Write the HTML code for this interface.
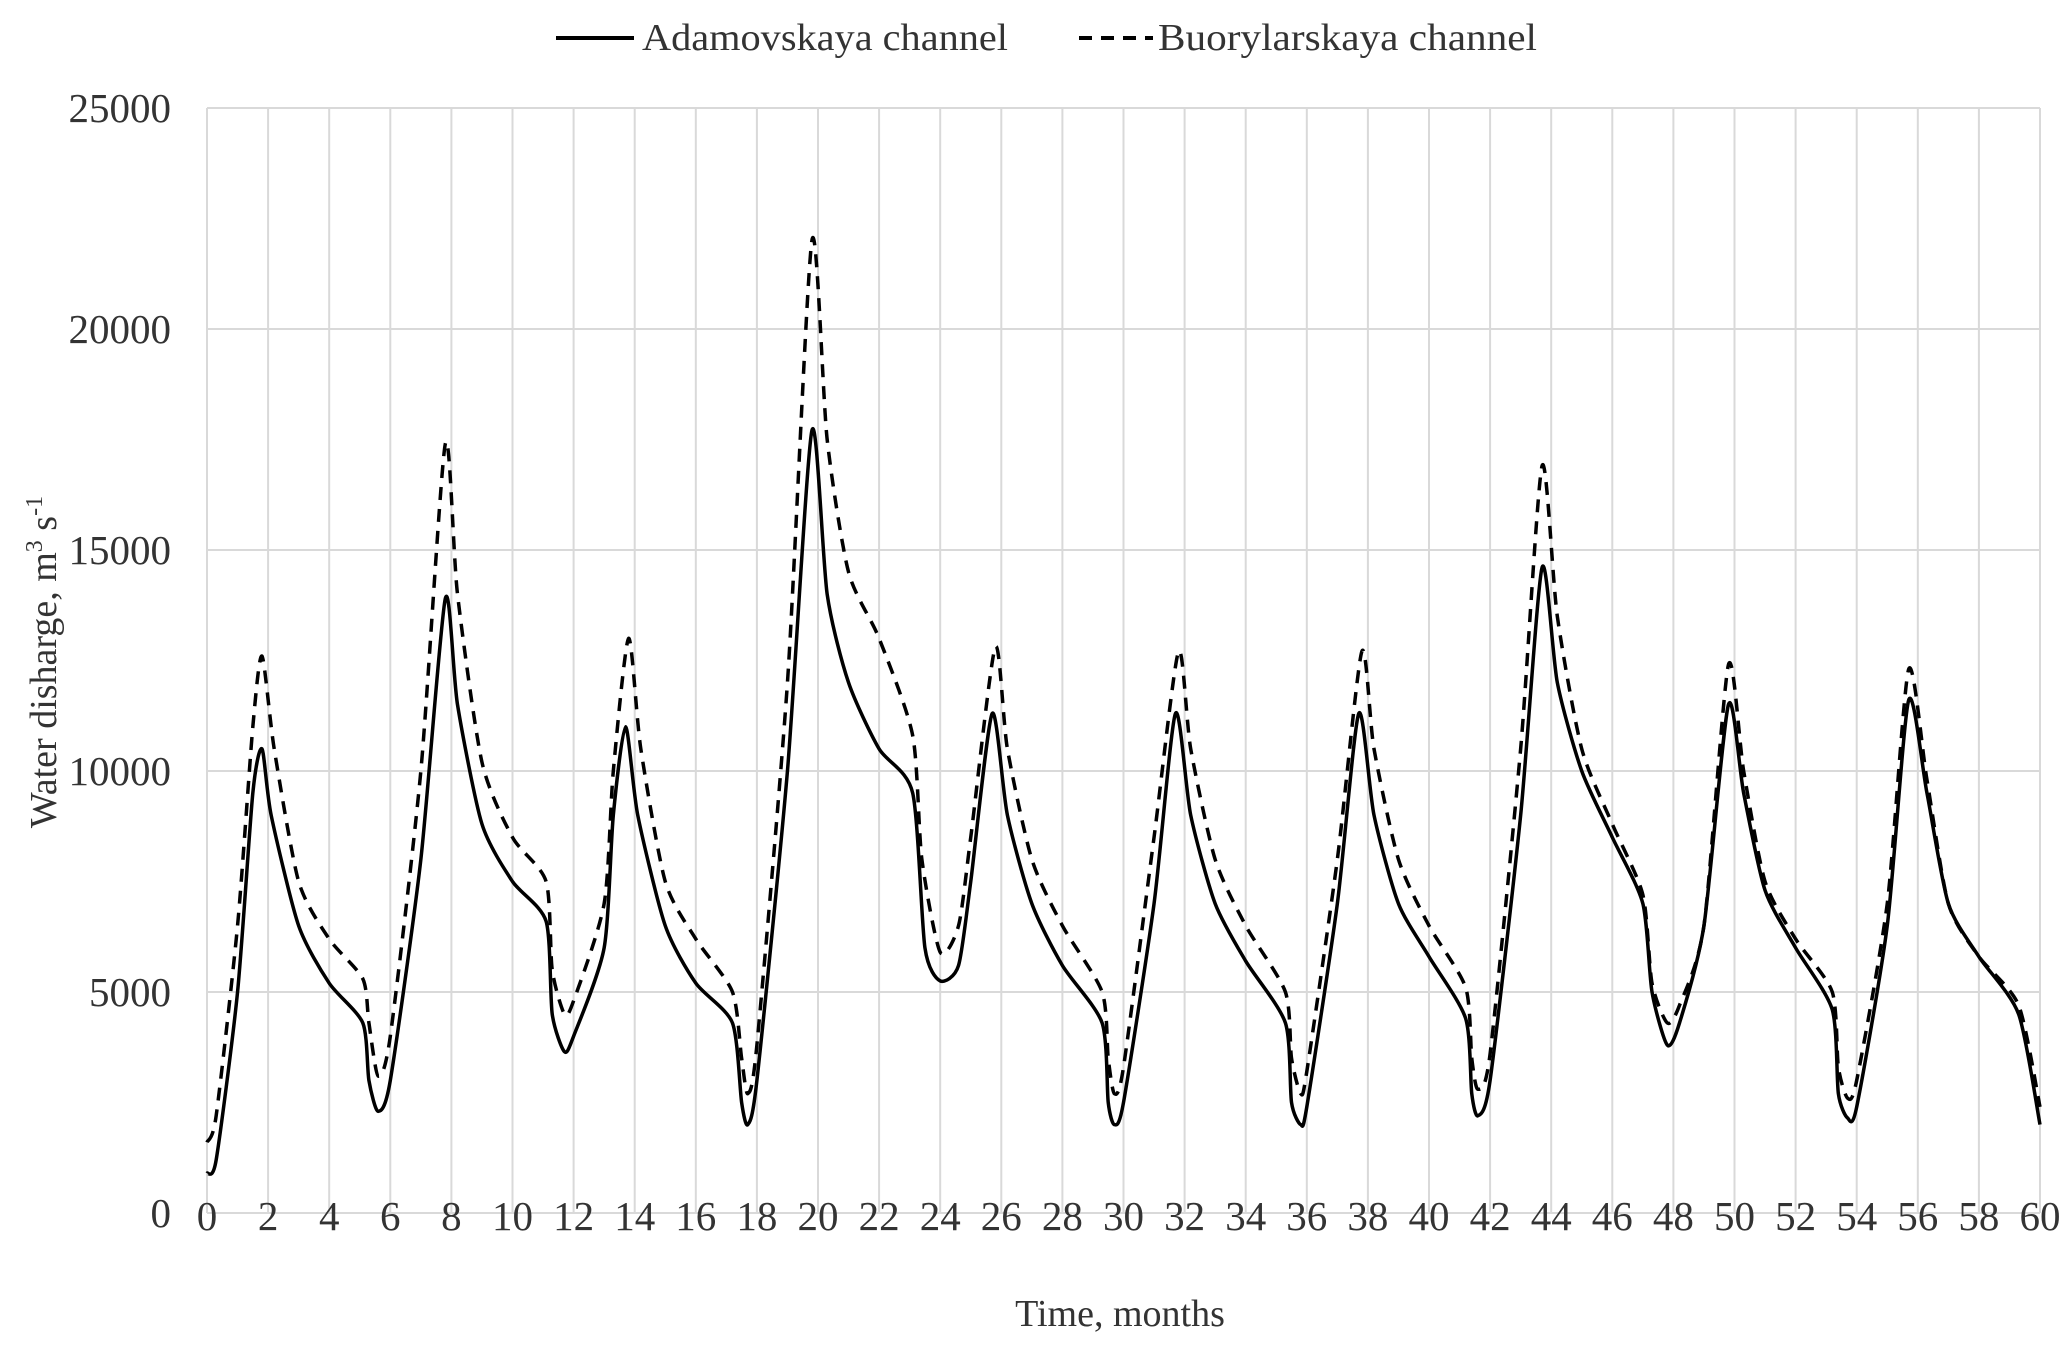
<!DOCTYPE html>
<html><head><meta charset="utf-8">
<style>
html,body{margin:0;padding:0;background:#fff;}
svg{display:block;}
text{font-family:"Liberation Serif",serif;fill:#333;}
</style></head>
<body>
<svg id="s" width="2067" height="1355" viewBox="0 0 2067 1355" xmlns="http://www.w3.org/2000/svg">
<g id="grid" stroke="#d9d9d9" stroke-width="2"></g>
<g id="lab" font-size="41"></g>
<path id="a" fill="none" stroke="#000" stroke-width="3.5" stroke-linejoin="round"/>
<path id="b" fill="none" stroke="#000" stroke-width="3.5" stroke-dasharray="13,9" stroke-linejoin="round"/>
<line x1="556" y1="38" x2="634" y2="38" stroke="#000" stroke-width="4"/>
<text x="642" y="50" font-size="38" textLength="366" lengthAdjust="spacingAndGlyphs">Adamovskaya channel</text>
<line x1="1079" y1="38" x2="1153" y2="38" stroke="#000" stroke-width="4" stroke-dasharray="13,9"/>
<text x="1158" y="50" font-size="38" textLength="379" lengthAdjust="spacingAndGlyphs">Buorylarskaya channel</text>
<text x="1120" y="1326" font-size="38" text-anchor="middle">Time, months</text>
<text transform="translate(56,662) rotate(-90)" font-size="38" text-anchor="middle">Water disharge, m<tspan font-size="24" dy="-14">3</tspan><tspan dy="14"> s</tspan><tspan font-size="24" dy="-14">-1</tspan></text>
</svg>
<script>
var L=207,R=2040,T=108,B=1213;
function X(m){return L+(R-L)*m/60;}
function Y(v){return B-(B-T)*v/25000;}
var g=document.getElementById('grid'),lab=document.getElementById('lab'),ns='http://www.w3.org/2000/svg';
function el(p,tag,at,txt){var e=document.createElementNS(ns,tag);for(var k in at)e.setAttribute(k,at[k]);if(txt!=null)e.textContent=txt;p.appendChild(e);}
for(var v=0;v<=25000;v+=5000){el(g,'line',{x1:L,x2:R,y1:Y(v),y2:Y(v)});el(lab,'text',{x:L-36,y:Y(v)+14,'text-anchor':'end'},v);}
for(var m=0;m<=60;m+=2){el(g,'line',{x1:X(m),x2:X(m),y1:T,y2:B});el(lab,'text',{x:X(m),y:1230,'text-anchor':'middle'},m);}
var A=[[0,900],[0.3,1200],[1,5000],[1.5,9500],[1.8,10500],[2.1,9000],[3,6500],[4,5200],[5.1,4300],[5.3,3000],[5.6,2300],[6,3000],[7,8000],[7.8,13900],[8.2,11500],[9,8800],[10,7500],[11.1,6600],[11.3,4500],[11.7,3650],[12,4000],[13,6000],[13.3,9000],[13.7,11000],[14.1,9000],[15,6500],[16,5200],[17.2,4300],[17.5,2500],[17.7,2000],[18,3000],[19,10000],[19.8,17700],[20.3,14000],[21,12000],[22,10500],[23.1,9500],[23.5,6000],[24,5250],[24.6,5600],[25,7500],[25.7,11300],[26.2,9000],[27,7000],[28,5600],[29.3,4300],[29.5,2500],[29.7,2000],[30,2500],[31,7000],[31.7,11300],[32.2,9000],[33,7000],[34,5700],[35.3,4300],[35.5,2500],[35.8,2000],[36,2400],[37,7000],[37.7,11300],[38.2,9000],[39,7000],[40,5800],[41.2,4400],[41.4,2700],[41.6,2200],[42,3000],[43,9000],[43.7,14600],[44.2,12000],[45,10000],[46,8500],[47,7000],[47.3,5000],[47.8,3800],[48.2,4300],[49,6500],[49.8,11500],[50.3,9500],[51,7300],[52,6000],[53.2,4600],[53.4,2700],[53.7,2150],[54,2400],[55,6500],[55.7,11600],[56.3,9500],[57,7000],[58,5800],[59.3,4500],[60,2000]];
var Bd=[[0,1600],[0.3,2200],[1,6500],[1.5,11000],[1.8,12600],[2.2,10500],[3,7500],[4,6200],[5.1,5300],[5.3,4300],[5.6,3100],[6,4000],[7,10000],[7.8,17400],[8.2,14000],[9,10200],[10,8500],[11.1,7500],[11.3,5500],[11.7,4500],[12,4800],[13,7000],[13.3,10000],[13.8,13000],[14.2,10500],[15,7500],[16,6200],[17.2,5000],[17.5,3500],[17.7,2700],[18,3800],[19,12000],[19.8,22000],[20.3,17500],[21,14500],[22,13000],[23.1,10800],[23.4,8000],[24,5900],[24.6,6500],[25,8500],[25.8,12800],[26.2,10500],[27,8000],[28,6500],[29.3,5000],[29.5,3500],[29.7,2700],[30,3300],[31,8500],[31.8,12700],[32.2,10500],[33,8000],[34,6500],[35.3,5000],[35.5,3500],[35.8,2700],[36,3200],[37,8000],[37.8,12700],[38.2,10500],[39,8000],[40,6500],[41.2,5100],[41.4,3500],[41.6,2800],[42,3600],[43,10500],[43.7,16900],[44.2,13500],[45,10500],[46,8800],[47,7200],[47.3,5200],[47.8,4300],[48.2,4700],[49,6500],[49.8,12400],[50.3,10000],[51,7500],[52,6200],[53.2,5000],[53.4,3300],[53.7,2600],[54,3000],[55,7000],[55.7,12300],[56.3,9800],[57,7000],[58,5800],[59.3,4700],[60,2400]];
function path(d){var p=d.map(function(q){return [X(q[0]),Y(q[1])];});var s='M'+p[0][0]+','+p[0][1];
for(var i=0;i<p.length-1;i++){var p0=p[i-1]||p[i],p1=p[i],p2=p[i+1],p3=p[i+2]||p2,t=0.12;
s+=' C'+(p1[0]+(p2[0]-p0[0])*t)+','+(p1[1]+(p2[1]-p0[1])*t)+' '+(p2[0]-(p3[0]-p1[0])*t)+','+(p2[1]-(p3[1]-p1[1])*t)+' '+p2[0]+','+p2[1];}
return s;}
document.getElementById('a').setAttribute('d',path(A));
document.getElementById('b').setAttribute('d',path(Bd));
</script>
</body></html>
